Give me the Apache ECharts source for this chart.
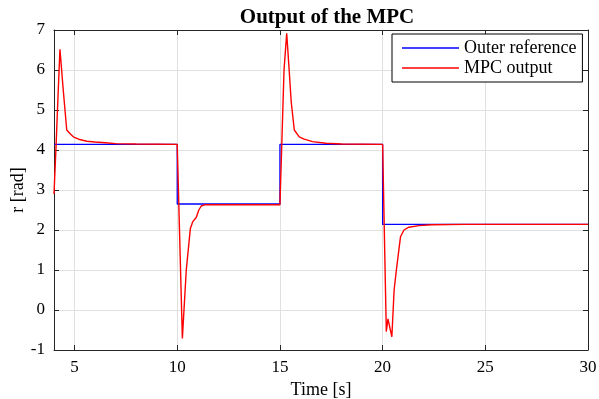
<!DOCTYPE html>
<html>
<head>
<meta charset="utf-8">
<script src="https://cdn.jsdelivr.net/npm/echarts@6/dist/echarts.min.js"></script>
<style>html,body{margin:0;padding:0;background:#fff}#c{width:599px;height:399px}</style>
</head>
<body>
<div id="c"></div>
<script>
// Outer reference (step signal)
const refT = [4, 10, 10, 15, 15, 20, 20, 30];
const refV = [4.14, 4.14, 2.65, 2.65, 4.14, 4.14, 2.14, 2.14];
// MPC output
const mpcT = [4.0, 4.1, 4.2, 4.29, 4.45, 4.62, 4.8, 4.94, 5.2, 5.6, 6.0, 6.5, 7.0, 8.0, 10.0,
  10.25, 10.44, 10.64, 10.76, 10.93, 11.05, 11.17, 11.33, 15.0,
  15.1, 15.2, 15.33, 15.45, 15.55, 15.7, 15.94, 16.18, 16.59, 17.24, 18.0, 20.0,
  20.18, 20.26, 20.32, 20.45, 20.56, 20.67, 20.87, 21.04, 21.28, 21.77, 22.4, 24.0, 30.0];
const mpcV = [2.9, 4.1, 5.4, 6.52, 5.5, 4.5, 4.4, 4.33, 4.27, 4.22, 4.2, 4.18, 4.16, 4.15, 4.14,
  -0.71, 1.0, 2.04, 2.21, 2.32, 2.5, 2.6, 2.63, 2.63,
  4.3, 6.0, 6.92, 6.0, 5.2, 4.5, 4.33, 4.27, 4.21, 4.17, 4.15, 4.14,
  -0.54, -0.22, -0.27, -0.67, 0.5, 1.0, 1.83, 2.0, 2.07, 2.11, 2.13, 2.14, 2.14];
const xTicks = [5, 10, 15, 20, 25, 30];
const yTicks = [-1, 0, 1, 2, 3, 4, 5, 6, 7];
const titleText = 'Output of the MPC';
const xName = 'Time [s]';
const yName = 'r [rad]';
const seriesNames = ['Outer reference', 'MPC output'];

const F = '"Liberation Serif", "Times New Roman", serif';
const axisLineStyle = {color: '#262626', width: 1};
const chart = echarts.init(document.getElementById('c'), null, {renderer: 'canvas'});
const zip = (a, b) => a.map((v, i) => [v, b[i]]);
chart.setOption({
  animation: false,
  backgroundColor: '#fff',
  title: {
    text: titleText, left: 322, top: 2, textAlign: 'center',
    textStyle: {fontFamily: F, fontWeight: 'bold', fontSize: 21, color: '#000'}
  },
  legend: {
    orient: 'vertical', left: 392, top: 34,
    padding: [4, 6, 4, 10], itemGap: 0, itemWidth: 57, itemHeight: 1.6,
    icon: 'rect',
    borderColor: '#000', borderWidth: 1, backgroundColor: '#fff', borderRadius: 0,
    textStyle: {fontFamily: F, fontSize: 18, lineHeight: 20, color: '#000'},
    data: seriesNames
  },
  grid: {left: 54, right: 11, top: 30, bottom: 49, containLabel: false, outerBoundsMode: 'none'},
  xAxis: [{
    type: 'value', min: 4, max: 30, position: 'bottom',
    name: xName, nameLocation: 'middle', nameGap: 31, nameMoveOverlap: false,
    nameTextStyle: {fontFamily: F, fontSize: 18, color: '#000'},
    axisLine: {show: true, onZero: false, lineStyle: axisLineStyle},
    axisTick: {show: true, inside: true, length: 5, lineStyle: axisLineStyle, customValues: xTicks},
    axisLabel: {fontFamily: F, fontSize: 17, color: '#000', margin: 9, customValues: xTicks},
    splitLine: {show: true, lineStyle: {color: '#e0e0e0', width: 1}}
  }, {
    type: 'value', min: 4, max: 30, position: 'top',
    axisLine: {show: true, onZero: false, lineStyle: axisLineStyle},
    axisTick: {show: true, inside: true, length: 5, lineStyle: axisLineStyle, customValues: xTicks},
    axisLabel: {show: false},
    splitLine: {show: false}
  }],
  yAxis: [{
    type: 'value', min: -1, max: 7, interval: 1, position: 'left',
    name: yName, nameLocation: 'middle', nameGap: 27, nameRotate: 90, nameMoveOverlap: false,
    nameTextStyle: {fontFamily: F, fontSize: 18, color: '#000'},
    axisLine: {show: true, onZero: false, lineStyle: axisLineStyle},
    axisTick: {show: true, inside: true, length: 5, lineStyle: axisLineStyle},
    axisLabel: {fontFamily: F, fontSize: 17, color: '#000', margin: 9},
    splitLine: {show: true, lineStyle: {color: '#e0e0e0', width: 1}}
  }, {
    type: 'value', min: -1, max: 7, interval: 1, position: 'right',
    axisLine: {show: true, onZero: false, lineStyle: axisLineStyle},
    axisTick: {show: true, inside: true, length: 5, lineStyle: axisLineStyle},
    axisLabel: {show: false},
    splitLine: {show: false}
  }],
  series: [{
    name: seriesNames[0], type: 'line', symbol: 'none', xAxisIndex: 0, yAxisIndex: 0,
    data: zip(refT, refV), lineStyle: {color: '#0000ff', width: 1.3}, itemStyle: {color: '#0000ff'}, z: 2
  }, {
    name: seriesNames[1], type: 'line', symbol: 'none', xAxisIndex: 0, yAxisIndex: 0,
    data: zip(mpcT, mpcV), lineStyle: {color: '#ff0000', width: 1.4}, itemStyle: {color: '#ff0000'}, z: 3
  }]
});
</script>
</body>
</html>
